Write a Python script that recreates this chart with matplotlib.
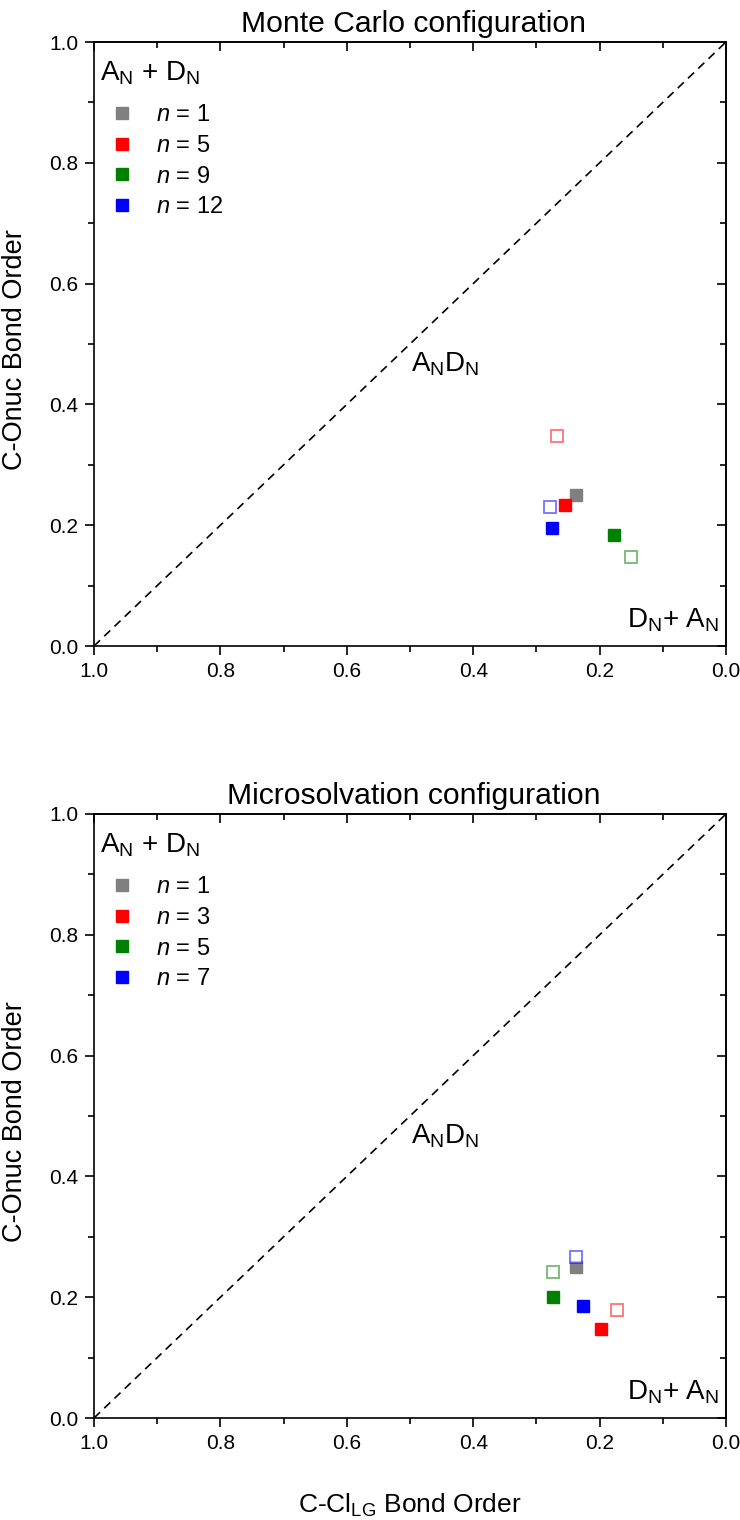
import matplotlib
matplotlib.use('Agg')
from matplotlib import pyplot as plt
import matplotlib.ticker as ticker

# series colours, shared by both panels
colors = ['#808080', '#ff0000', '#008000', '#0000ff']

# Monte Carlo configuration
mc_labels = ['1', '5', '9', '12']
mc_filled_x = [0.237, 0.254, 0.177, 0.276]
mc_filled_y = [0.250, 0.234, 0.183, 0.195]
mc_open_x = [None, 0.267, 0.150, 0.279]
mc_open_y = [None, 0.348, 0.148, 0.230]

# Microsolvation configuration
ms_labels = ['1', '3', '5', '7']
ms_filled_x = [0.237, 0.198, 0.274, 0.226]
ms_filled_y = [0.250, 0.148, 0.200, 0.185]
ms_open_x = [None, 0.172, 0.274, 0.238]
ms_open_y = [None, 0.178, 0.242, 0.266]

plt.rcParams['font.family'] = ['Liberation Sans', 'DejaVu Sans']
plt.rcParams['mathtext.fontset'] = 'custom'
plt.rcParams['mathtext.rm'] = 'Liberation Sans'
plt.rcParams['mathtext.it'] = 'Liberation Sans:italic'
plt.rcParams['mathtext.bf'] = 'Liberation Sans:bold'


def draw_panel(ax, title, labels, fx, fy, ox, oy, xlabel=None):
    """Draws one bond order panel"""

    # diagonal A_N D_N line
    ax.plot([1, 0], [0, 1], color='black', lw=1.2, ls=(0, (5, 3.5)))

    handles = []
    for i, c in enumerate(colors):
        if ox[i] is not None:
            ax.plot(ox[i], oy[i], 's', ms=8, mfc='white', mec=c, mew=1.3, alpha=0.55)
        h, = ax.plot(fx[i], fy[i], 's', ms=8, color=c, mec=c)
        handles.append(h)

    ax.set_xlim(1.0, 0.0)
    ax.set_ylim(0.0, 1.0)
    ax.set_title(title, fontsize=21.7, pad=7, x=0.506)
    ax.set_ylabel('C-Onuc Bond Order', fontsize=19.5)
    ax.yaxis.set_label_coords(-0.104, 0.49)
    if xlabel:
        ax.set_xlabel(xlabel, fontsize=19, labelpad=28)

    for axis in (ax.xaxis, ax.yaxis):
        axis.set_major_locator(ticker.MultipleLocator(0.2))
        axis.set_minor_locator(ticker.MultipleLocator(0.1))
        axis.set_major_formatter(ticker.FormatStrFormatter('%.1f'))
    ax.tick_params(which='major', direction='out', length=6.5, width=1.2, labelsize=15, pad=5)
    ax.tick_params(which='minor', direction='out', length=4, width=1.2)
    for s in ax.spines.values():
        s.set_linewidth(1.2)

    # inward ticks on the top and right
    top = ax.secondary_xaxis('top')
    right = ax.secondary_yaxis('right')
    for sec in (top, right):
        sec_axis = sec.xaxis if sec is top else sec.yaxis
        sec_axis.set_major_locator(ticker.MultipleLocator(0.2))
        sec_axis.set_minor_locator(ticker.MultipleLocator(0.1))
        sec.tick_params(which='major', direction='in', length=6.5, width=1.2)
        sec.tick_params(which='minor', direction='in', length=4, width=1.2)
        sec.tick_params(labeltop=False, labelright=False)
        for s in sec.spines.values():
            s.set_linewidth(1.2)

    # region labels
    ax.text(0.009, 0.937, r'A$_\mathregular{N}$ + D$_\mathregular{N}$', transform=ax.transAxes,
            fontsize=20, ha='left', va='baseline')
    ax.text(0.445, 0.467, r'A$_\mathregular{N}$D$_\mathregular{N}$', fontsize=20,
            ha='center', va='center')
    ax.text(0.99, 0.03, r'D$_\mathregular{N}$+ A$_\mathregular{N}$', transform=ax.transAxes,
            fontsize=20, ha='right', va='baseline')

    ax.legend(handles, [r'$n$ = ' + l for l in labels], loc='upper left',
              bbox_to_anchor=(0.0256, 0.897), frameon=False, fontsize=17,
              handlelength=1.0, handletextpad=0.94, labelspacing=0.37,
              borderpad=0, borderaxespad=0, markerscale=1.0)


fig = plt.figure(figsize=(7.4, 15.2), dpi=100)
ax1 = fig.add_axes([94 / 740, 1 - 646 / 1520, 632 / 740, 604 / 1520])
ax2 = fig.add_axes([94 / 740, 1 - 1418 / 1520, 632 / 740, 604 / 1520])

draw_panel(ax1, 'Monte Carlo configuration', mc_labels,
           mc_filled_x, mc_filled_y, mc_open_x, mc_open_y)
draw_panel(ax2, 'Microsolvation configuration', ms_labels,
           ms_filled_x, ms_filled_y, ms_open_x, ms_open_y,
           xlabel=r'C-Cl$_\mathregular{LG}$ Bond Order')

fig.savefig('out.png', dpi=100)
